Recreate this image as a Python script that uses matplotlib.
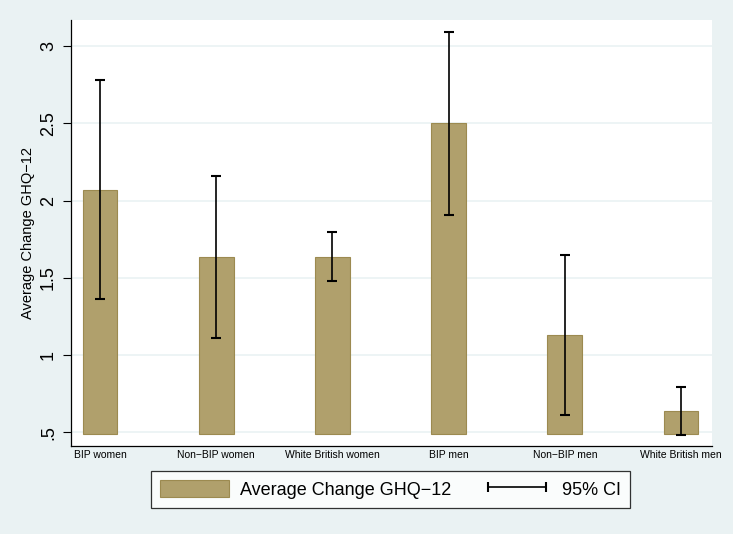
import matplotlib
matplotlib.use("Agg")
import matplotlib.pyplot as plt
import numpy as np
from matplotlib.lines import Line2D
from matplotlib.patches import Patch

categories = ["BIP women", "Non\u2212BIP women", "White British women",
              "BIP men", "Non\u2212BIP men", "White British men"]
means = [2.067, 1.634, 1.634, 2.50, 1.13, 0.638]
ci_low = [1.36, 1.11, 1.48, 1.91, 0.61, 0.483]
ci_high = [2.78, 2.16, 1.795, 3.09, 1.65, 0.793]
yticks = [0.5, 1, 1.5, 2, 2.5, 3]
yticklabels = [".5", "1", "1.5", "2", "2.5", "3"]

bg = "#EAF2F3"
bar_color = "#B0A06C"
bar_edge = "#9C8A50"
base = 0.487

plt.rcParams['font.family'] = ['Liberation Sans', 'DejaVu Sans']

fig = plt.figure(figsize=(7.33, 5.34), dpi=100, facecolor=bg)
W, H = 733, 534
ax = fig.add_axes([71 / W, 1 - 446 / H, (712 - 71) / W, (446 - 20) / H])
ax.set_facecolor("white")

x = np.arange(len(categories))
heights = [m - base for m in means]
ax.bar(x, heights, bottom=base, width=0.3, color=bar_color, edgecolor=bar_edge,
       linewidth=0.8, zorder=2)
yerr = np.array([[m - lo for m, lo in zip(means, ci_low)],
                 [hi - m for m, hi in zip(means, ci_high)]])
ax.errorbar(x, means, yerr=yerr, fmt="none", ecolor="black", elinewidth=1.2,
            capsize=3.5, capthick=1.5, zorder=3)

ax.set_xlim(-0.25, 5.267)
ax.set_ylim(0.411, 3.17)
ax.set_yticks(yticks)
ax.set_yticklabels(yticklabels, rotation=90, va="center", fontsize=13)
ax.yaxis.grid(True, color=bg, linewidth=1.2, zorder=0)
ax.set_axisbelow(True)
ax.set_xticks(x)
ax.set_xticklabels(categories, fontsize=7.5)
ax.tick_params(axis="x", length=0, pad=3)
ax.tick_params(axis="y", length=5.5, width=0.8, pad=4.5)
for s in ["top", "right"]:
    ax.spines[s].set_visible(False)
ax.spines["left"].set_linewidth(0.9)
ax.spines["bottom"].set_linewidth(0.9)
ax.set_ylabel("Average Change GHQ\u221212", fontsize=10.5, labelpad=4)

handles = [Patch(facecolor=bar_color, edgecolor=bar_edge, linewidth=0.8),
           Line2D([0], [0], color="black", linewidth=1.2, marker="|",
                  markersize=7, markeredgewidth=1.5)]
leg = fig.legend(handles, ["Average Change GHQ\u221212", "95% CI"], ncol=2,
                 loc="center", bbox_to_anchor=(390.7 / W, 1 - 489.5 / H),
                 fontsize=13, frameon=True, fancybox=False, edgecolor="black",
                 handlelength=3.8, handleheight=1.0, columnspacing=1.75,
                 borderpad=0.5, handletextpad=0.62, numpoints=2)
leg.get_frame().set_linewidth(0.9)
fig.savefig("out.png", dpi=100, facecolor=bg)
